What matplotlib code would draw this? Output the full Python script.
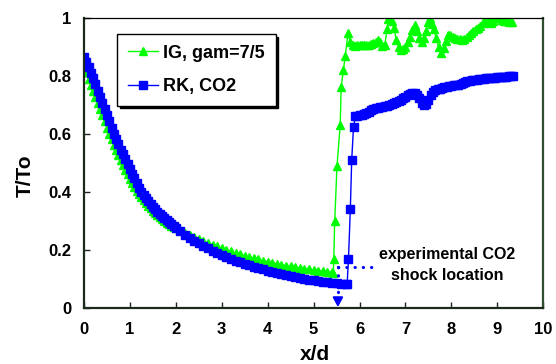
import numpy as np
import matplotlib.pyplot as plt

plt.rcParams['font.family'] = ['Liberation Sans', 'DejaVu Sans']
plt.rcParams['font.weight'] = 'bold'

# IG, gam=7/5 (green triangles)
ig_x = [0.00, 0.05, 0.10, 0.15, 0.20, 0.25, 0.30, 0.35, 0.40, 0.45, 0.50, 0.55, 0.60, 0.65,
        0.70, 0.75, 0.80, 0.85, 0.90, 0.95, 1.00, 1.05, 1.10, 1.15, 1.20, 1.25, 1.30, 1.35,
        1.40, 1.45, 1.50, 1.55, 1.60, 1.65, 1.70, 1.75, 1.80, 1.85, 1.90, 1.95, 2.00,
        2.1, 2.2, 2.3, 2.4, 2.5, 2.6, 2.7, 2.8, 2.9, 3.0, 3.1, 3.2, 3.3, 3.4, 3.5, 3.6, 3.7,
        3.8, 3.9, 4.0, 4.1, 4.2, 4.3, 4.4, 4.5, 4.6, 4.7, 4.8, 4.9, 5.0, 5.1, 5.2, 5.3, 5.4,
        5.43, 5.44, 5.46, 5.51, 5.58, 5.60, 5.65, 5.69, 5.75,
        5.80, 5.85, 5.90, 5.95, 6.00, 6.05, 6.10, 6.15, 6.20, 6.25, 6.30, 6.35, 6.40, 6.45,
        6.50, 6.55, 6.60, 6.63, 6.67, 6.71, 6.75, 6.80, 6.85, 6.90, 6.95, 7.00, 7.05, 7.10,
        7.15, 7.20, 7.25, 7.30, 7.35, 7.40, 7.45, 7.50, 7.54, 7.58, 7.62, 7.67, 7.72, 7.78,
        7.83, 7.88, 7.93, 7.98, 8.03, 8.08, 8.13, 8.18, 8.23, 8.28, 8.33, 8.38, 8.43, 8.48,
        8.53, 8.58, 8.63, 8.68, 8.72, 8.77, 8.82, 8.86, 8.90, 8.95, 9.00, 9.05, 9.10, 9.15,
        9.20, 9.26, 9.33]
ig_y = [0.832, 0.812, 0.790, 0.769, 0.748, 0.727, 0.706, 0.685, 0.664, 0.643, 0.621, 0.600,
        0.581, 0.563, 0.545, 0.527, 0.510, 0.493, 0.477, 0.461, 0.446, 0.431, 0.417, 0.404,
        0.392, 0.381, 0.371, 0.361, 0.352, 0.343, 0.335, 0.327, 0.320, 0.313, 0.306, 0.300,
        0.294, 0.289, 0.284, 0.279, 0.275,
        0.267, 0.259, 0.252, 0.245, 0.238, 0.231, 0.224, 0.218, 0.212, 0.206, 0.200, 0.195,
        0.190, 0.185, 0.180, 0.175, 0.171, 0.167, 0.163, 0.159, 0.155, 0.152, 0.149, 0.146,
        0.143, 0.140, 0.137, 0.135, 0.133, 0.131, 0.129, 0.127, 0.125, 0.123,
        0.122, 0.17, 0.30, 0.49, 0.63, 0.76, 0.82, 0.87, 0.947,
        0.915, 0.905, 0.903, 0.906, 0.905, 0.908, 0.906, 0.907, 0.905, 0.910, 0.913, 0.918,
        0.924, 0.915, 0.903, 0.905, 0.960, 0.995, 1.02, 0.990, 0.965, 0.925, 0.900, 0.890,
        0.893, 0.900, 0.915, 0.935, 0.958, 0.974, 0.955, 0.930, 0.915, 0.930, 0.955, 0.985,
        0.998, 0.980, 0.960, 0.930, 0.900, 0.879, 0.895, 0.920, 0.940, 0.942, 0.935, 0.930,
        0.928, 0.927, 0.925, 0.928, 0.935, 0.942, 0.948, 0.955, 0.962, 0.966, 0.972, 0.982,
        0.990, 0.985, 0.988, 0.983, 0.990, 1.000, 1.005, 1.000, 0.994, 0.990, 0.990, 0.987,
        0.987]

# RK, CO2 (blue squares)
rk_x = [0.00, 0.05, 0.10, 0.15, 0.20, 0.25, 0.30, 0.35, 0.40, 0.45, 0.50, 0.55, 0.60, 0.65,
        0.70, 0.75, 0.80, 0.85, 0.90, 0.95, 1.00, 1.05, 1.10, 1.15, 1.20, 1.25, 1.30, 1.35,
        1.40, 1.45, 1.50, 1.55, 1.60, 1.65, 1.70, 1.75, 1.80, 1.85, 1.90, 1.95, 2.00,
        2.1, 2.2, 2.3, 2.4, 2.5, 2.6, 2.7, 2.8, 2.9, 3.0, 3.1, 3.2, 3.3, 3.4, 3.5, 3.6, 3.7,
        3.8, 3.9, 4.0, 4.1, 4.2, 4.3, 4.4, 4.5, 4.6, 4.7, 4.8, 4.9, 5.0, 5.1, 5.2, 5.3, 5.4,
        5.5, 5.6, 5.7, 5.73, 5.76, 5.80, 5.83, 5.87, 5.91,
        5.95, 6.0, 6.05, 6.1, 6.15, 6.2, 6.25, 6.3, 6.35, 6.4, 6.45, 6.5, 6.55, 6.6, 6.65,
        6.7, 6.75, 6.8, 6.85, 6.9, 6.95, 7.0, 7.05, 7.1, 7.15, 7.2, 7.25, 7.3,
        7.35, 7.4, 7.45, 7.5, 7.55, 7.6, 7.65, 7.7, 7.75, 7.8, 7.85, 7.9, 7.95, 8.0, 8.05,
        8.1, 8.15, 8.2, 8.25, 8.3, 8.35, 8.4, 8.45, 8.5, 8.55, 8.6, 8.65, 8.7, 8.75, 8.8,
        8.85, 8.9, 8.95, 9.0, 9.05, 9.1, 9.15, 9.2, 9.25, 9.3, 9.35]
rk_y = [0.866, 0.848, 0.830, 0.811, 0.792, 0.771, 0.749, 0.728, 0.707, 0.685, 0.664, 0.643,
        0.621, 0.600, 0.582, 0.564, 0.546, 0.529, 0.512, 0.495, 0.479, 0.463, 0.447, 0.431,
        0.415, 0.400, 0.389, 0.378, 0.368, 0.358, 0.349, 0.340, 0.332, 0.324, 0.316, 0.309,
        0.302, 0.295, 0.288, 0.282, 0.276,
        0.264, 0.253, 0.242, 0.232, 0.223, 0.214, 0.205, 0.197, 0.189, 0.181, 0.175, 0.169,
        0.163, 0.157, 0.152, 0.147, 0.142, 0.137, 0.133, 0.129, 0.125, 0.121, 0.117, 0.113,
        0.110, 0.107, 0.104, 0.101, 0.098, 0.096, 0.093, 0.091, 0.089, 0.087,
        0.085, 0.083, 0.082, 0.081, 0.17, 0.34, 0.51, 0.625, 0.66,
        0.662, 0.665, 0.666, 0.668, 0.671, 0.676, 0.681, 0.685, 0.688, 0.690, 0.692, 0.693,
        0.695, 0.697, 0.700, 0.703, 0.706, 0.709, 0.713, 0.718, 0.723, 0.728, 0.733, 0.737,
        0.740, 0.742, 0.735, 0.722, 0.708, 0.700, 0.704, 0.718, 0.735, 0.746, 0.751, 0.754,
        0.756, 0.758, 0.760, 0.762, 0.764, 0.765, 0.767, 0.768, 0.770, 0.772, 0.775, 0.778,
        0.781, 0.783, 0.785, 0.786, 0.787, 0.788, 0.789, 0.790, 0.791, 0.792, 0.793, 0.793,
        0.794, 0.795, 0.796, 0.796, 0.797, 0.797, 0.798, 0.798, 0.799]

shock_x = 5.53
shock_y = 0.142
note_text = "experimental CO2\nshock location"

fig = plt.figure(figsize=(5.56, 3.64), dpi=100)
ax = fig.add_axes([0.151, 0.154, 0.826, 0.797])

ax.plot(ig_x, ig_y, color='#00ff00', lw=1.0, marker='^', ms=6, mec='#00ff00',
        mfc='#00ff00', label='IG, gam=7/5')
ax.plot(rk_x, rk_y, color='#0000ff', lw=1.0, marker='s', ms=5.2, mec='#0000ff',
        mfc='#0000ff', label='RK, CO2')

# shock location marker
dots = (0, (0.1, 2.6))
ax.plot([shock_x, 6.36], [shock_y, shock_y], color='#0000ff', lw=2.2, ls=dots,
        dash_capstyle='round')
ax.plot([shock_x, shock_x], [shock_y, 0.04], color='#0000ff', lw=2.2, ls=dots,
        dash_capstyle='round')
ax.annotate('', xy=(shock_x, 0.003), xytext=(shock_x, 0.035),
            arrowprops=dict(arrowstyle='-|>,head_length=0.55,head_width=0.3',
                            color='#0000ff', lw=1.5, shrinkA=0, shrinkB=0))
ax.text(7.9, 0.148, note_text, ha='center', va='center', fontsize=11.5,
        fontweight='bold', linespacing=1.45)

ax.set_xlim(0, 10)
ax.set_ylim(0, 1)
ax.set_xticks(range(0, 11))
ax.set_yticks([0, 0.2, 0.4, 0.6, 0.8, 1])
ax.set_yticklabels(['0', '0.2', '0.4', '0.6', '0.8', '1'])
ax.tick_params(direction='in', length=4, width=1, colors='#1c2a1c', labelcolor='black',
               labelsize=12)
ax.tick_params(axis='x', pad=10)
ax.tick_params(axis='y', pad=9)

for side in ['left', 'bottom']:
    ax.spines[side].set_color('#1c2a1c')
    ax.spines[side].set_linewidth(1.6)
ax.spines['right'].set_color('#2f4f2f')
ax.spines['right'].set_linewidth(1.6)
ax.spines['top'].set_color('black')
ax.spines['top'].set_linewidth(0.9)

ax.set_xlabel('x/d', fontsize=15, fontweight='bold')
ax.set_ylabel('T/To', fontsize=15, fontweight='bold')
ax.xaxis.set_label_coords(0.503, -0.128)
ax.yaxis.set_label_coords(-0.108, 0.455)

leg = ax.legend(loc='upper left', bbox_to_anchor=(0.072, 0.945), borderaxespad=0,
                fancybox=False, edgecolor='black', framealpha=1, numpoints=1,
                prop={'size': 13, 'weight': 'bold'}, handlelength=1.65,
                handletextpad=0.3, labelspacing=0.9, borderpad=0.6,
                shadow={'color': 'black', 'alpha': 1})
leg.get_frame().set_linewidth(1.0)

fig.savefig('out.png', dpi=100)
